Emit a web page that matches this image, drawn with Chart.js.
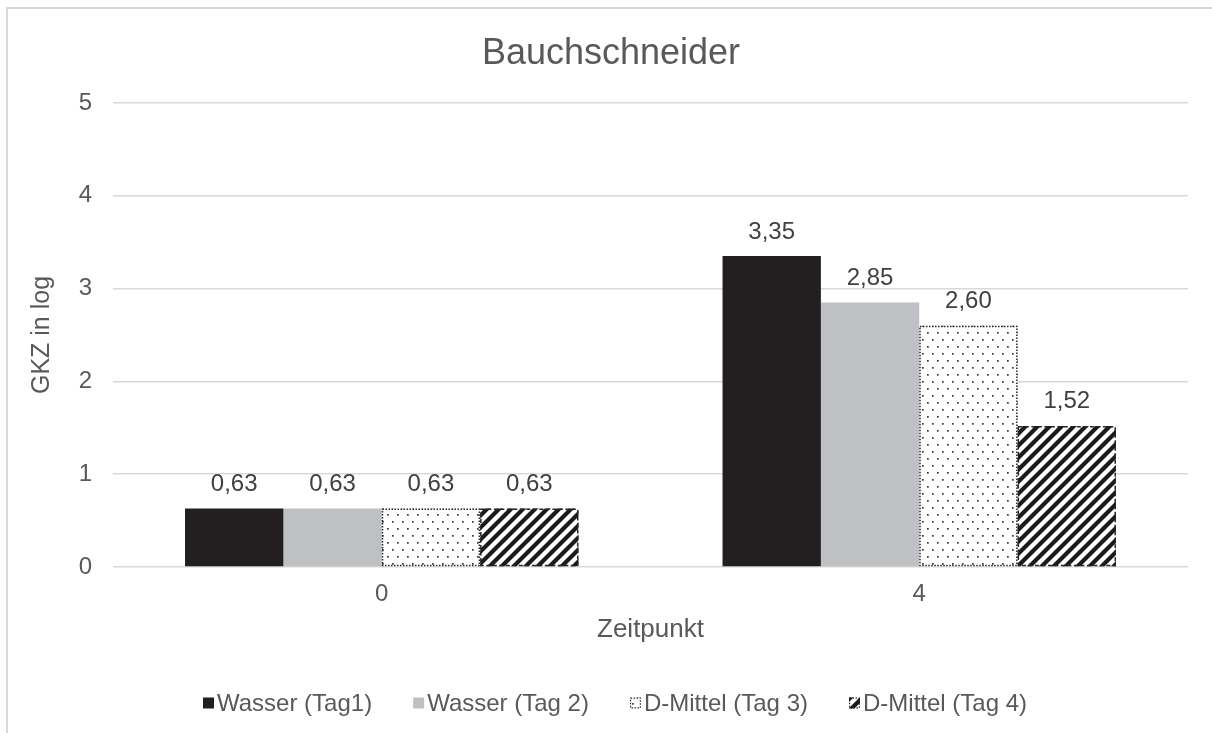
<!DOCTYPE html>
<html>
<head>
<meta charset="utf-8">
<title>Bauchschneider</title>
<script src="https://cdn.jsdelivr.net/npm/chart.js@4/dist/chart.umd.min.js"></script>
<style>
  html, body { margin: 0; padding: 0; background: #ffffff; }
  #wrap { width: 1212px; height: 733px; }
</style>
</head>
<body>
<div id="wrap"><canvas id="chart" width="1212" height="733"></canvas></div>
<script>
// ---- data ----
const categories = ['0', '4'];
const seriesNames = ['Wasser (Tag1)', 'Wasser (Tag 2)', 'D-Mittel (Tag 3)', 'D-Mittel (Tag 4)'];
const wasserTag1 = [0.63, 3.35];
const wasserTag2 = [0.63, 2.85];
const mittelTag3 = [0.63, 2.60];
const mittelTag4 = [0.63, 1.52];
const yTickValues = [0, 1, 2, 3, 4, 5];
const chartTitle = 'Bauchschneider';

const FONT = '"Liberation Sans", Arial, Helvetica, sans-serif';
const TEXT = '#595959';
const GRID = '#d9d9d9';

// ---- fill patterns ----
function dotPattern() {
  const c = document.createElement('canvas');
  c.width = 10; c.height = 14;
  const g = c.getContext('2d');
  g.fillStyle = '#ffffff';
  g.fillRect(0, 0, 10, 14);
  g.fillStyle = '#3a3a3a';
  g.fillRect(2, 3, 1.7, 1.7);
  g.fillRect(7, 10, 1.7, 1.7);
  return g.createPattern(c, 'repeat');
}
function stripePattern() {
  const s = 12;
  const c = document.createElement('canvas');
  c.width = s; c.height = s;
  const g = c.getContext('2d');
  g.fillStyle = '#ffffff';
  g.fillRect(0, 0, s, s);
  g.strokeStyle = '#1b1b1b';
  g.lineWidth = 4.2;
  g.beginPath();
  g.moveTo(-s, 2 * s); g.lineTo(2 * s, -s);
  g.moveTo(-s, s); g.lineTo(s, -s);
  g.moveTo(0, 2 * s); g.lineTo(2 * s, 0);
  g.stroke();
  return g.createPattern(c, 'repeat');
}

const fills = ['#231f20', '#bfc0c3', dotPattern(), stripePattern()];
// outline style per series: null = none, otherwise dash pattern
const outlines = [null, null, [1.5, 1.5], [4, 2.5]];

// ---- plugins ----
const frame = {
  id: 'frame',
  beforeDraw(chart) {
    const ctx = chart.ctx;
    ctx.save();
    ctx.strokeStyle = GRID;
    ctx.lineWidth = 2;
    ctx.beginPath();
    ctx.moveTo(7, chart.height);
    ctx.lineTo(7, 8);
    ctx.lineTo(chart.width, 8);
    ctx.stroke();
    ctx.restore();
  }
};

const heading = {
  id: 'heading',
  afterDraw(chart) {
    const ctx = chart.ctx;
    ctx.save();
    ctx.font = '36px ' + FONT;
    ctx.fillStyle = TEXT;
    ctx.textAlign = 'center';
    ctx.textBaseline = 'alphabetic';
    ctx.fillText(chartTitle, 611, 63.5);
    ctx.restore();
  }
};

const barOutlines = {
  id: 'barOutlines',
  afterDatasetsDraw(chart) {
    const ctx = chart.ctx;
    chart.data.datasets.forEach((ds, i) => {
      const dash = outlines[i];
      if (!dash) return;
      chart.getDatasetMeta(i).data.forEach(el => {
        const l = el.x - el.width / 2;
        ctx.save();
        ctx.strokeStyle = '#262626';
        ctx.lineWidth = 1.5;
        ctx.setLineDash(dash);
        ctx.strokeRect(l + 0.75, el.y + 0.75, el.width - 1.5, el.base - el.y - 1.5);
        ctx.restore();
      });
    });
  }
};

const valueLabels = {
  id: 'valueLabels',
  afterDatasetsDraw(chart) {
    const ctx = chart.ctx;
    ctx.save();
    ctx.font = '24px ' + FONT;
    ctx.fillStyle = '#404040';
    ctx.textAlign = 'center';
    ctx.textBaseline = 'alphabetic';
    chart.data.datasets.forEach((ds, i) => {
      chart.getDatasetMeta(i).data.forEach((el, j) => {
        const txt = ds.data[j].toFixed(2).replace('.', ',');
        ctx.fillText(txt, el.x, el.y - 17.5);
      });
    });
    ctx.restore();
  }
};

const bottomLegend = {
  id: 'bottomLegend',
  afterDraw(chart) {
    const ctx = chart.ctx;
    const box = 11, gapBox = 3, gapItem = 41, cy = 703, cx = 615;
    ctx.save();
    ctx.font = '24px ' + FONT;
    const items = chart.data.datasets.map((ds, i) => ({
      text: ds.label, fill: ds.backgroundColor, dash: outlines[i],
      w: box + gapBox + ctx.measureText(ds.label).width
    }));
    const total = items.reduce((s, it) => s + it.w, 0) + gapItem * (items.length - 1);
    let x = cx - total / 2;
    items.forEach(it => {
      ctx.fillStyle = it.fill;
      ctx.fillRect(x, cy - box / 2, box, box);
      if (it.dash) {
        ctx.save();
        ctx.strokeStyle = '#262626';
        ctx.lineWidth = 1.2;
        ctx.setLineDash([1.5, 1.5]);
        ctx.strokeRect(x + 0.6, cy - box / 2 + 0.6, box - 1.2, box - 1.2);
        ctx.restore();
      }
      ctx.fillStyle = TEXT;
      ctx.textAlign = 'left';
      ctx.textBaseline = 'middle';
      ctx.fillText(it.text, x + box + gapBox, cy + 1);
      x += it.w + gapItem;
    });
    ctx.restore();
  }
};

// ---- chart ----
const seriesValues = [wasserTag1, wasserTag2, mittelTag3, mittelTag4];

new Chart(document.getElementById('chart'), {
  type: 'bar',
  data: {
    labels: categories,
    datasets: seriesNames.map((name, i) => ({
      label: name,
      data: seriesValues[i],
      backgroundColor: fills[i],
      borderWidth: 0,
      categoryPercentage: 0.732,
      barPercentage: 1.0
    }))
  },
  options: {
    responsive: false,
    animation: false,
    devicePixelRatio: 1,
    layout: { padding: { left: 0, right: 24, top: 103, bottom: 73 } },
    plugins: {
      legend: { display: false },
      tooltip: { enabled: false },
      title: { display: false }
    },
    scales: {
      x: {
        grid: { display: false },
        border: { display: false },
        ticks: { color: TEXT, font: { family: FONT, size: 24 }, padding: 5 },
        title: {
          display: true, text: 'Zeitpunkt', color: TEXT,
          font: { family: FONT, size: 26, lineHeight: 1.2 },
          padding: { top: 0, bottom: 14.4 }
        },
        afterFit(scale) { scale.height = 93; }
      },
      y: {
        min: 0, max: 5,
        afterBuildTicks(scale) { scale.ticks = yTickValues.map(v => ({ value: v })); },
        grid: { color: GRID, lineWidth: 1.5, drawTicks: false },
        border: { display: false },
        ticks: { color: TEXT, font: { family: FONT, size: 24 }, padding: 21 },
        title: {
          display: true, text: 'GKZ in log', color: TEXT,
          font: { family: FONT, size: 25, lineHeight: 1.2 },
          padding: { top: 27.5, bottom: 0 }
        },
        afterFit(scale) { scale.width = 113; }
      }
    }
  },
  plugins: [frame, heading, barOutlines, valueLabels, bottomLegend]
});
</script>
</body>
</html>
